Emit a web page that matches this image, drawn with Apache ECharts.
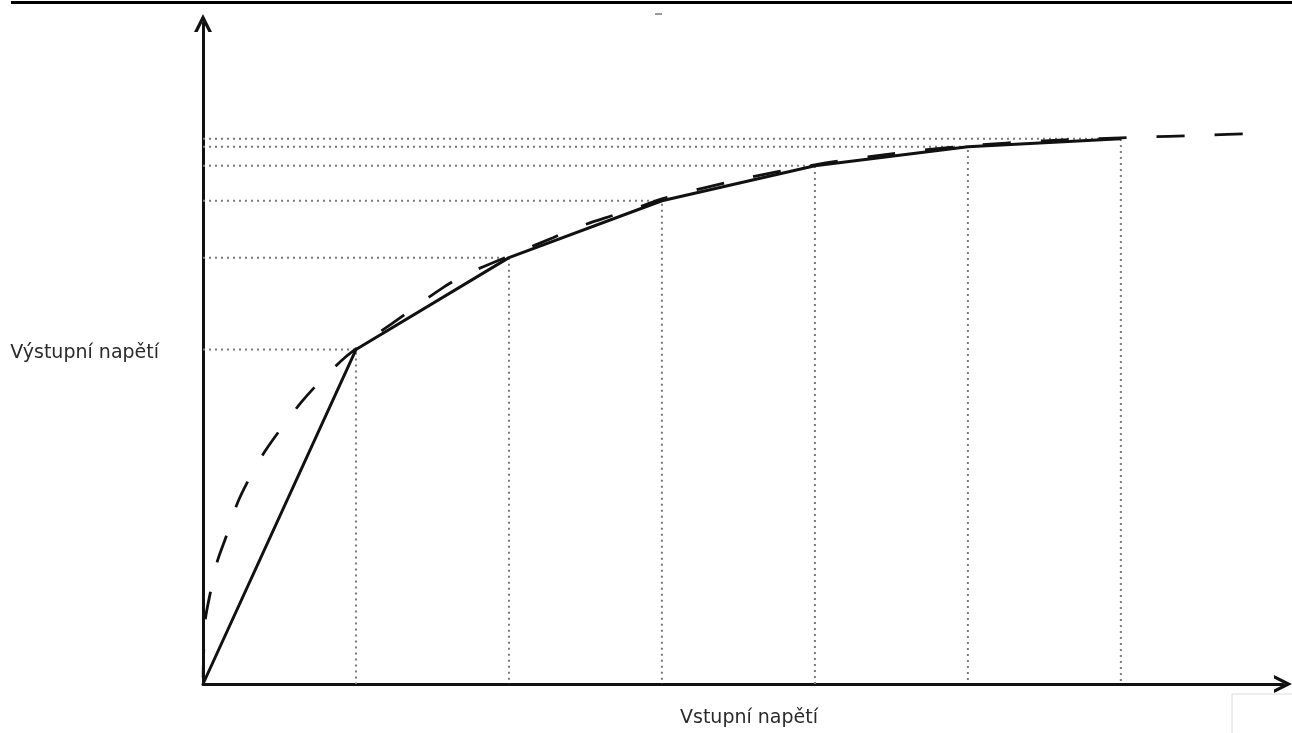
<!DOCTYPE html>
<html>
<head>
<meta charset="utf-8">
<title>Výstupní napětí</title>
<script src="https://cdn.jsdelivr.net/npm/echarts@6/dist/echarts.min.js"></script>
<style>
  html, body { margin: 0; padding: 0; background: #fff; }
  #chart { width: 1292px; height: 733px; }
</style>
</head>
<body>
<div id="chart"></div>
<script>
// Piecewise-linear approximation: break points of the solid polyline
const breakX = [0, 1, 2, 3, 4, 5, 6];
const breakY = [0, 3.35, 4.27, 4.84, 5.19, 5.38, 5.46];

// Real (curved) characteristic, drawn dashed
const curveX = [0, 0.003, 0.013, 0.046, 0.092, 0.157, 0.222, 0.307, 0.405, 0.516, 0.647, 0.778, 0.928, 1.039, 1.235, 1.569, 1.745, 2.07, 2.288, 2.477, 2.673, 2.856, 3.0, 3.5, 4.0, 4.5, 5.0, 5.5, 6.0, 6.21, 6.42, 6.61, 6.81];
const curveY = [0, 0.23, 0.62, 0.90, 1.22, 1.50, 1.80, 2.07, 2.33, 2.57, 2.83, 3.05, 3.27, 3.40, 3.61, 3.97, 4.12, 4.33, 4.47, 4.59, 4.69, 4.78, 4.86, 5.05, 5.20, 5.31, 5.39, 5.44, 5.47, 5.48, 5.49, 5.50, 5.51];

const xName = 'Vstupní napětí';
const yName = 'Výstupní napětí';

const chart = echarts.init(document.getElementById('chart'), null, { renderer: 'canvas' });

// open chevron used as the arrow head of both axes
const arrowPath = 'path://M0,18 L9,0 L18,18 L14.4,18 L9,7.2 L3.6,18 Z';
const textStyle = { fontFamily: 'DejaVu Sans', fontSize: 19, color: '#2a2a2a' };

const axisLine = {
  show: true,
  symbol: ['none', arrowPath],
  symbolSize: [18, 18],
  lineStyle: { color: '#111', width: 3 }
};

// dotted guide lines: from the y axis to each break point and down to the x axis
const guideSeries = breakX.slice(1).map((x, i) => ({
  type: 'line',
  data: [[0, breakY[i + 1]], [x, breakY[i + 1]], [x, 0]],
  symbol: 'none',
  silent: true,
  z: 1,
  lineStyle: { color: '#7a7a7a', width: 2, type: [2, 4] }
}));

chart.setOption({
  animation: false,
  backgroundColor: '#fff',
  grid: { left: 203, right: 9, top: 23, bottom: 48, containLabel: false },
  xAxis: {
    type: 'value', min: 0, max: 7.06,
    axisLine: axisLine,
    axisTick: { show: false }, axisLabel: { show: false }, splitLine: { show: false },
    name: xName, nameLocation: 'middle', nameGap: 25,
    nameTextStyle: Object.assign({ padding: [0, 0, 0, 12] }, textStyle)
  },
  yAxis: {
    type: 'value', min: 0, max: 6.62,
    axisLine: axisLine,
    axisTick: { show: false }, axisLabel: { show: false }, splitLine: { show: false },
    name: yName, nameLocation: 'middle', nameRotate: 0, nameGap: 44, nameTextStyle: textStyle
  },
  series: guideSeries.concat([
    {
      type: 'line',
      data: breakX.map((x, i) => [x, breakY[i]]),
      symbol: 'none', silent: true, z: 3,
      lineStyle: { color: '#111', width: 3 }
    },
    {
      type: 'line',
      data: curveX.map((x, i) => [x, curveY[i]]),
      smooth: 0.3,
      symbol: 'none', silent: true, z: 4,
      lineStyle: { color: '#111', width: 2.8, type: [28, 30], dashOffset: -7 }
    }
  ]),
  graphic: [
    { type: 'rect', shape: { x: 11, y: 1, width: 1281, height: 3 }, style: { fill: '#000' }, silent: true },
    { type: 'rect', shape: { x: 655, y: 13, width: 7, height: 2 }, style: { fill: '#9a9a9a' }, silent: true },
    { type: 'polyline', shape: { points: [[1232, 733], [1232, 694], [1292, 694]] }, style: { stroke: '#dcdcdc', lineWidth: 1, fill: null }, silent: true }
  ]
});
</script>
</body>
</html>
